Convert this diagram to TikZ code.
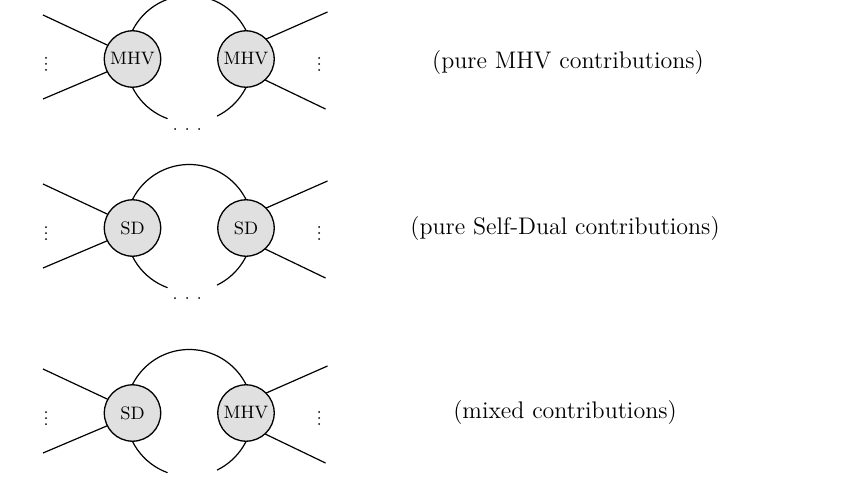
\documentclass[tikz,border=0pt]{standalone}
\usetikzlibrary{calc}
\begin{document}
\begin{tikzpicture}[x=0.5pt,y=-0.5pt,
  wire/.style={line width=0.6pt},
  blob/.style={circle,draw,line width=0.65pt,fill=black!12,minimum size=28.2pt,
    inner sep=0pt,font=\fontsize{9}{11}\selectfont},
  caption/.style={font=\fontsize{12}{14}\selectfont}]
\useasboundingbox (0,0) rectangle (845,476);
% one-loop diagram per row: two vertex blobs joined by a loop, with external legs
\foreach \n/\y/\lab/\rab in {a/59/MHV/MHV, b/228/SD/SD, c/413/SD/MHV}{
  \coordinate (\n-l) at (132.5,\y);
  \coordinate (\n-r) at (246,\y);
  \coordinate (\n-m) at (189.25,\y);
  % loop: upper propagator and the two open lower pieces
  \draw[wire] ($(\n-m)+(-63.5,0)$) arc[start angle=180,end angle=360,radius=63.5];
  \draw[wire] ($(\n-m)+(-63.5,0)$) arc[start angle=180,end angle=110,radius=63.5];
  \draw[wire] ($(\n-m)+(63.5,0)$) arc[start angle=0,end angle=64,radius=63.5];
  % external legs
  \draw[wire] ($(\n-l)+(-89.5,-44)$) -- ($(\n-l)+(-10,-6.8)$);
  \draw[wire] ($(\n-l)+(-89.5,40)$) -- ($(\n-l)+(-10,6.3)$);
  \draw[wire] ($(\n-r)+(81.5,-47)$) -- ($(\n-r)+(10,-15.5)$);
  \draw[wire] ($(\n-r)+(79.5,50)$) -- ($(\n-r)+(10,16.6)$);
  % vertices
  \node[blob] (\n L) at (\n-l) {\lab};
  \node[blob] (\n R) at (\n-r) {\rab};
  % vertical dots between the legs
  \foreach \d in {-1,5,11}{
    \fill ($(\n-l)+(-86.5,\d)$) circle[radius=0.5pt];
    \fill ($(\n-r)+(73,\d)$) circle[radius=0.5pt];
  }
}
% horizontal dots under the open loops
\foreach \n in {a,b}{
  \foreach \d in {-14.25,-2.25,9.75}{
    \fill ($(\n-m)+(\d,70)$) circle[radius=0.5pt];
  }
}
\node[caption] (capa) at (568,63) {(pure MHV contributions)};
\node[caption] (capb) at (565,229) {(pure Self-Dual contributions)};
\node[caption] (capc) at (565,413) {(mixed contributions)};
\end{tikzpicture}
\end{document}
